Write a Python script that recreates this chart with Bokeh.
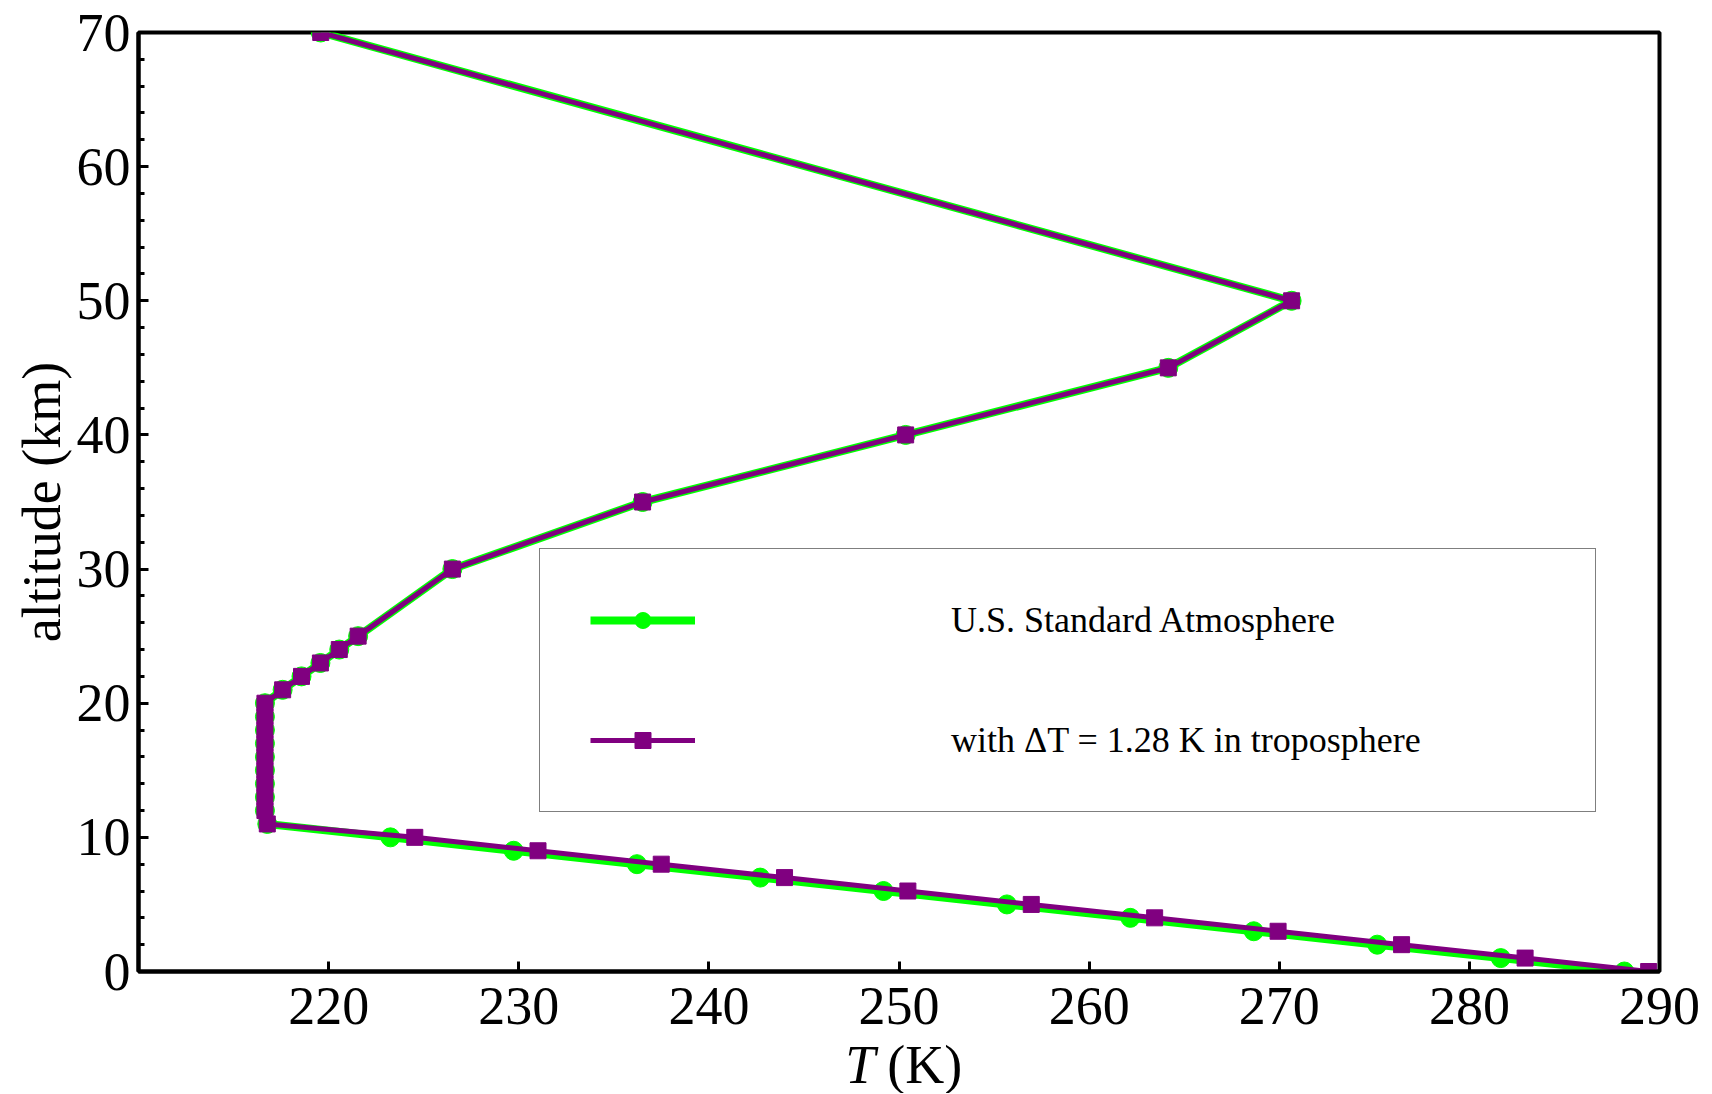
from bokeh.plotting import figure
from bokeh.layouts import column
from bokeh.models import FixedTicker, Legend, LegendItem, Range1d
from bokeh.core.properties import value
from bokeh.embed import file_html
from bokeh.resources import INLINE

# ---- data (U.S. Standard Atmosphere profile) ----
altitude_km = [0, 1, 2, 3, 4, 5, 6, 7, 8, 9, 10,
               11, 12, 13, 14, 15, 16, 17, 18, 19, 20,
               21, 22, 23, 24, 25, 30, 35, 40, 45, 50, 70]

t_standard = [288.150, 281.651, 275.154, 268.659, 262.166, 255.676, 249.187,
              242.700, 236.215, 229.733, 223.252,
              216.774, 216.650, 216.650, 216.650, 216.650, 216.650, 216.650,
              216.650, 216.650, 216.650,
              217.581, 218.574, 219.567, 220.560, 221.552, 226.509, 236.513,
              250.350, 264.164, 270.650, 219.585]

t_warmed = [289.430, 282.931, 276.434, 269.939, 263.446, 256.956, 250.467,
            243.980, 237.495, 231.013, 224.532,
            216.774, 216.650, 216.650, 216.650, 216.650, 216.650, 216.650,
            216.650, 216.650, 216.650,
            217.581, 218.574, 219.567, 220.560, 221.552, 226.509, 236.513,
            250.350, 264.164, 270.650, 219.585]

x_ticks = [220, 230, 240, 250, 260, 270, 280, 290]
y_ticks = [0, 10, 20, 30, 40, 50, 60, 70]
y_minor = [2, 4, 6, 8, 12, 14, 16, 18, 22, 24, 26, 28, 32, 34, 36, 38,
           42, 44, 46, 48, 52, 54, 56, 58, 62, 64, 66, 68]

label_standard = "U.S. Standard Atmosphere"
label_warmed = "with \u0394T = 1.28 K in troposphere"
y_title = "altitude (km)"
x_title_symbol = "T"
x_title_unit = "(K)"

FONT = "Liberation Serif"
GREEN = "#00ff00"
PURPLE = "#800080"

W = 1704
X_RANGE = (210, 290)

p = figure(width=W, height=1035, output_backend="svg", toolbar_location=None,
           title=None,
           x_range=Range1d(*X_RANGE), y_range=Range1d(0, 70),
           min_border_left=138, min_border_right=45,
           min_border_top=32, min_border_bottom=64,
           background_fill_color="white", border_fill_color="white")

p.grid.visible = False
p.outline_line_color = "black"
p.outline_line_width = 4
p.outline_line_alpha = 1.0

xa = p.xaxis[0]
xa.ticker = FixedTicker(ticks=x_ticks, minor_ticks=[])
xa.axis_line_width = 4
xa.major_tick_line_width = 3
xa.major_tick_in = 10
xa.major_tick_out = 0
xa.minor_tick_in = 0
xa.minor_tick_out = 0
xa.major_label_text_font = FONT
xa.major_label_text_font_size = "54px"
xa.major_label_text_color = "black"
xa.major_label_standoff = 16

ya = p.yaxis[0]
ya.ticker = FixedTicker(ticks=y_ticks, minor_ticks=y_minor)
ya.axis_line_width = 4
ya.major_tick_line_width = 3
ya.minor_tick_line_width = 3
ya.major_tick_in = 10
ya.major_tick_out = 0
ya.minor_tick_in = 6
ya.minor_tick_out = 0
ya.major_label_text_font = FONT
ya.major_label_text_font_size = "54px"
ya.major_label_text_color = "black"
ya.major_label_standoff = 8
ya.axis_label = y_title
ya.axis_label_text_font = FONT
ya.axis_label_text_font_size = "54px"
ya.axis_label_text_font_style = "normal"
ya.axis_label_text_color = "black"
ya.axis_label_standoff = 2

g_line = p.line(t_standard, altitude_km, line_color=GREEN, line_width=8)
g_pts = p.scatter(t_standard, altitude_km, marker="circle", size=19,
                  fill_color=GREEN, line_color=GREEN)
m_line = p.line(t_warmed, altitude_km, line_color=PURPLE, line_width=5)
m_pts = p.scatter(t_warmed, altitude_km, marker="square", size=16,
                  fill_color=PURPLE, line_color=PURPLE)

legend = Legend(items=[LegendItem(label=label_standard, renderers=[g_line, g_pts]),
                       LegendItem(label=label_warmed, renderers=[m_line, m_pts])],
                location=(401, 159), orientation="vertical",
                label_text_font=FONT, label_text_font_size="36px",
                label_text_color="black",
                glyph_width=105, glyph_height=40, label_height=40,
                label_standoff=256, label_width=594,
                spacing=78, padding=50, margin=0,
                border_line_color="black", border_line_width=1.5,
                background_fill_color="white", background_fill_alpha=1.0)
p.add_layout(legend)

# strip below the chart carrying the x-axis title (italic T + unit)
p2 = figure(width=W, height=58, output_backend="svg", toolbar_location=None,
            title=None,
            x_range=p.x_range, y_range=Range1d(0, 1),
            min_border_left=138, min_border_right=45,
            min_border_top=0, min_border_bottom=0,
            background_fill_color="white", border_fill_color="white")
p2.xaxis.visible = False
p2.yaxis.visible = False
p2.grid.visible = False
p2.outline_line_color = None
p2.text(x=[248.75], y=[0.5], text=[x_title_symbol], text_font=value(FONT),
        text_font_size=value("54px"), text_font_style=value("italic"),
        text_align=value("right"), text_baseline=value("middle"),
        text_color="black")
p2.text(x=[248.75], y=[0.5], text=[x_title_unit], text_font=value(FONT),
        text_font_size=value("54px"), text_align=value("left"),
        text_baseline=value("middle"), x_offset=12, text_color="black")

layout = column(p, p2, spacing=0)
open("out.html", "w").write(file_html(layout, INLINE))
